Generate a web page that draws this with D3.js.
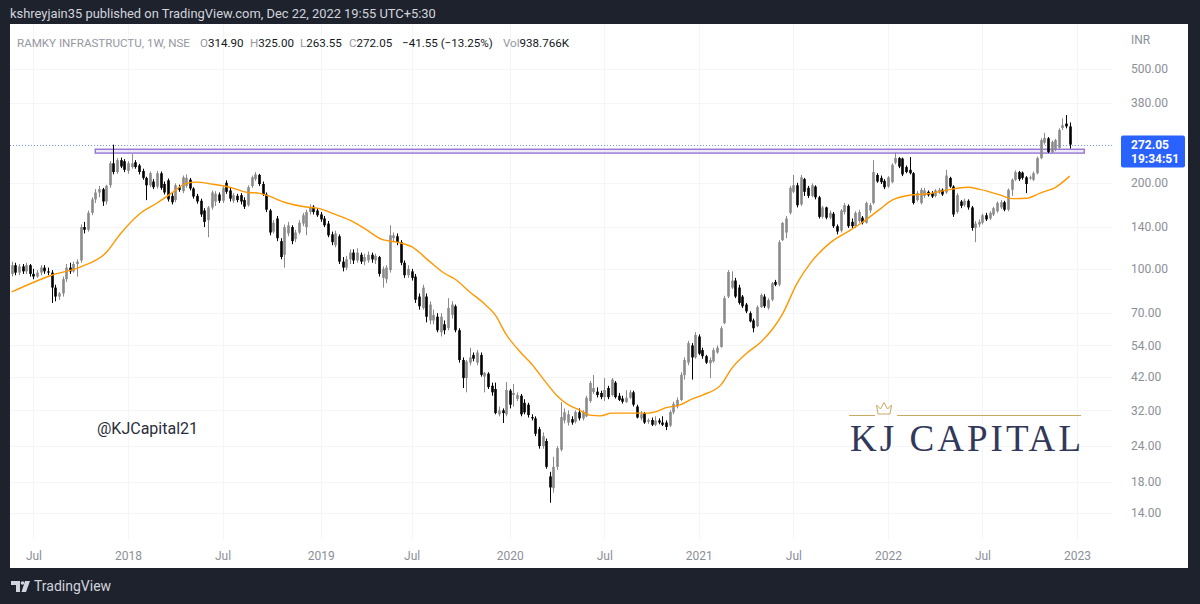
<!DOCTYPE html>
<html><head><meta charset="utf-8">
<script src="https://cdn.jsdelivr.net/npm/d3@7"></script>
<style>
html,body{margin:0;padding:0;background:#1e222d;overflow:hidden;}
svg{display:block;}
</style></head>
<body>
<svg id="c" width="1200" height="604"></svg>
<script>
// ---------------- DATA ----------------
const symbolTitle = "RAMKY INFRASTRUCTU, 1W, NSE";
const lastOHLC = {o: "314.90", h: "325.00", l: "263.55", c: "272.05", chg: "\u221241.55 (\u221213.25%)", vol: "938.766K"};
const firstBarWeek = "2017-05-22";   // Monday of first visible weekly bar
// weekly candles [open, high, low, close]
const ohlc2017 = [
 [96,106,94,103],[103,105,95,97],[97,104,95,102],[102,104,96,98],[98,105,96,103],[103,104,94,96],
 [96,100,92,94],[94,99,93,97],[97,103,95,101],[101,103,96,98],[98,101,95,97],[97,99,76,86],
 [86,88,77,80],[80,83,78,82],[82,94,80,92],[92,104,90,101],[101,105,96,98],[98,106,97,104],
 [104,108,94,106],[107,143,105,140],[140,146,133,137],[137,160,135,157],[157,178,154,175],[175,190,170,185],
 [185,195,178,190],[190,192,166,172],[172,197,168,195],[196,238,192,234],[234,272,214,218],[218,244,215,240],
 [240,245,225,228],[238,242,218,222]
];
const ohlc2018 = [
 [220,238,215,234],[227,252,224,234],[236,240,224,227],[230,233,214,218],[220,224,205,208],[208,210,174,196],
 [196,219,193,216],[202,206,190,193],[194,220,191,216],[216,219,189,192],[198,202,182,185],[204,207,172,175],
 [180,185,168,171],[174,199,171,196],[193,197,186,189],[187,212,184,209],[195,214,192,208],[205,208,188,191],
 [191,193,176,179],[180,183,169,172],[173,176,152,155],[160,163,140,146],[148,166,129,164],[164,188,161,185],
 [172,187,166,183],[182,185,170,173],[173,195,170,192],[200,204,183,186],[188,192,172,176],[173,184,170,181],
 [180,183,171,174],[181,184,168,172],[174,178,162,165],[167,196,165,193],[195,212,192,209],[206,218,203,214],
 [213,215,195,198],[198,202,180,182],[182,185,158,161],[160,162,131,134],[135,148,133,145],[150,153,125,128],
 [125,128,108,110],[112,143,101,140],[133,146,130,142],[140,142,122,125],[127,137,124,134],[134,148,132,145],
 [144,157,141,154],[140,161,131,158],[158,168,155,164],[165,167,155,158],[160,163,152,154]
];
const ohlc2019 = [
 [155,158,146,149],[150,153,140,142],[144,147,129,131],[132,135,121,124],[121,136,119,133],[130,132,104,106],
 [106,110,98,101],[101,111,99,108],[108,117,104,114],[114,117,104,107],[107,118,105,114],[112,114,104,106],
 [106,113,103,110],[107,115,105,112],[112,114,105,108],[107,113,104,111],[110,111,94,96],[93,102,86,100],
 [92,103,89,101],[99,142,97,131],[128,134,124,131],[130,133,121,124],[124,126,103,105],[105,107,93,95],
 [95,103,93,100],[98,100,91,93],[94,96,76,78],[80,82,72,74],[73,88,72,86],[80,82,65,68],
 [66,77,64,75],[66,72,64,69],[68,70,60,61],[60,70,58,68],[64,66,59,61],[62,79,61,73],
 [69,77,67,75],[74,75,60,61],[61,62,47,48],[48,49,38.3,41.5],[41.5,48,37,47.4],[47,53,46,49],
 [50,51,47.5,48.5],[47,52,46,51],[50,51,42,42.6],[42,43.6,37,43.3],[43,43.5,38,38.6],[39,40,36,37],
 [38,40,31,31.3],[31,33,30.5,32],[32,32.5,28.9,31.3],[31,40.2,30.5,37.7]
];
const ohlc2020 = [
 [37.5,38,32.5,33.5],[36.2,39.6,33,36.8],[35.1,37,34.5,36.2],[36,36.5,30.5,31],[34,35,31,31.5],[33.5,34,30.2,30.8],
 [30.3,31,29.5,30],[30,30.5,26,26.5],[27.5,28,23.5,24],[24,26.8,23.5,26],[25,25.5,20,20.3],[18.8,19.5,15.2,17.2],
 [17.1,22,16.5,20.3],[20.3,24,19.8,23.6],[23.3,34.2,23,30.3],[29.5,32.5,28.8,31.5],[29,32,28.3,31],[29.8,30.5,28.5,29],
 [29.2,32,28.8,31.6],[31.5,32.5,29.5,30],[30,32,29.5,31.6],[30.5,36,30.3,35.4],[34.5,40.5,34,39.9],[37.1,42.6,36.5,38.3],
 [37.2,38.5,35.5,36.2],[36.8,37.5,35,35.6],[35.6,41.5,34.5,37.7],[38.3,39,35,35.6],[36.2,41.5,35.8,41],[40,40.5,35.2,35.6],
 [36,36.8,34.5,34.8],[35.2,36,33.8,34.3],[34.2,37.6,34,35.4],[35.4,37.7,35,37],[37,37.5,33,33.5],[33,33.5,30,30.2],
 [30,31.8,29.5,31],[31.3,31.6,28.7,29],[29.2,30,28.7,29.6],[29.6,30.2,28.2,28.5],[28.5,30.5,28.2,29.5],[29.5,30,28.6,29],
 [29,30.5,28.2,28.5],[29,29.5,27.3,28],[28.3,32,28,31.6],[31.5,34.3,31,33.7],[33,35.5,32.5,34.8],[34.8,43.5,34.5,42.6],
 [42.5,49,41,48],[47,56,46,55],[54,55,41,49],[49,60,48.5,58.7]
];
const ohlc2021 = [
 [58,59,50,50.5],[52,53,48.5,49.5],[49.5,50,46.5,47],[46.8,49,41.5,48],[47.5,53,47,52],[51,54,50.5,53],
 [53.3,63,53,62],[64.6,80.5,64,79],[80,99,79,97.5],[86,98,85,91],[91,93,79,80],[86,88,75,76],
 [80,81,73,74],[75,76,70,71],[70,71,65,65.5],[66,67,60,62],[63,74.5,62.5,73.5],[73.5,82,73,81],
 [80,81.5,73,74],[73,79,72,77.8],[78,90,77,89],[90,91.5,87,88],[88,126,87,124],[126,146,125,144.7],
 [134,153,128,150],[157,195,155,192],[186,213,184,196],[196,200,164,167],[168,213,166,209],[206,208,180,186],
 [192,195,177,180],[180,199,178,196],[194,196,175,178],[178,180,150,152],[152,166,150,164],[164,165,149,151],
 [151,160,149,157],[156,158,139,141],[141,143,132,135],[136,162,134,160],[158,170,155,167],[166,168,139,141],
 [146,150,139,141],[141,159,139,157],[147,161,145,158],[151,153,143,145],[145,172,144,170],[160,170,157,167],
 [170,240,168,218],[213,216,200,202],[208,212,198,201],[203,206,190,193]
];
const ohlc2022 = [
 [194,211,192,209],[201,234,199,231],[235,255,232,244],[244,246,225,228],[243,245,211,214],[227,230,216,218],
 [222,246,214,216],[216,218,168,170],[174,187,172,184],[170,192,168,189],[180,192,177,188],[186,188,179,181],
 [184,187,177,179],[180,190,178,188],[185,192,183,189],[189,191,180,182],[185,222,183,212],[208,210,192,194],
 [194,196,152,155],[158,184,156,181],[172,174,163,166],[167,176,165,173],[173,175,161,164],[164,166,136,139],
 [139,147,124,144],[143,149,140,146],[145,156,143,154],[154,157,147,149],[150,159,148,157],[155,165,153,163],
 [159,172,157,170],[164,174,162,171],[171,173,159,161],[161,191,159,189],[189,207,180,205],[205,221,203,218],
 [218,220,203,206],[217,219,205,208],[209,211,184,198],[207,212,205,209],[205,219,203,216],[216,247,214,244],
 [244,286,242,282],[276,299,272,287],[286,289,254,256],[256,281,254,278],[262,285,258,282],[265,310,262,306],
 [311,336,306,318],[322,345,310,315],[314.90,325.00,263.55,272.05]
];
// orange moving average: bar index -> value
const maBarIndex = [0,11,19,26,30,35,40,44,48,51,55,60,65,68,70,75,81,84,89,93,97,102,106,110,115,119,122,126,130,133,136,140,143,147,150,153,156,159,162,165,169,175,177,180,184,187,190,195,198,202,206,209,212,216,220,225,230,234,239,242,247,252,257,263,266,272,275,279,283,287,291];
const maValues   = [83,95,101.6,114,133,155,170,184,199,201,198,193,185,184,181,171,164.5,163,155,148,138.5,126.5,124,119.5,106,96.5,92,83,75.5,69,59,51,46.5,40,36,33.5,32.2,30.8,30.6,31.3,31.3,31.3,31.6,32.7,33.5,35,36.2,39.2,44.8,50.5,55.4,61,69.5,89,106,123,135,145.5,162.5,173.5,181,183,188.5,193,190,181,176,176.5,184.5,192.5,211];
// resistance zone drawing
const zoneTop = 262, zoneBottom = 254;
const zoneStart = "2017-10-30", zoneEnd = "2023-01-16";
// axes
const priceTicks = [500,380,200,140,100,70,54,42,32,24,18,14];
const timeTickDates  = ["2017-07-01","2018-01-01","2018-07-01","2019-01-01","2019-07-01","2020-01-01","2020-07-01","2021-01-01","2021-07-01","2022-01-01","2022-07-01","2023-01-01"];
const timeTickLabels = ["Jul","2018","Jul","2019","Jul","2020","Jul","2021","Jul","2022","Jul","2023"];
const lastPrice = 272.05, countdown = "19:34:51";

// ---------------- CHART ----------------
const svg = d3.select("#c");
const W = 1200, H = 604;
const panel = {x: 10, y: 24, w: 1178, h: 544};
const plotRight = 1112;
const FONT = "Roboto, 'Open Sans', sans-serif";
const up = "#8a8a8a", down = "#000000", grey = "#8c8f98";

svg.append("rect").attr("width", W).attr("height", H).attr("fill", "#1e222d");
svg.append("text").attr("x", 10).attr("y", 18).attr("fill", "#d1d4dc")
  .style("font", `12.9px ${FONT}`).text("kshreyjain35 published on TradingView.com, Dec 22, 2022 19:55 UTC+5:30");
svg.append("rect").attr("x", panel.x).attr("y", panel.y).attr("width", panel.w).attr("height", panel.h).attr("fill", "#ffffff");

const parse = d3.utcParse("%Y-%m-%d");
const start = parse(firstBarWeek);
const bars = [].concat(ohlc2017, ohlc2018, ohlc2019, ohlc2020, ohlc2021, ohlc2022)
  .map((d, i) => ({date: d3.utcWeek.offset(start, i), o: d[0], h: d[1], l: d[2], c: d[3]}));

const x = d3.scaleUtc().domain([parse("2018-01-01"), parse("2023-01-02")]).range([128, 1077]);
const y = d3.scaleLog().domain([14, 500]).range([513, 69]);

svg.append("clipPath").attr("id", "plot").append("rect")
  .attr("x", panel.x).attr("y", panel.y).attr("width", plotRight - panel.x).attr("height", 540 - panel.y);

const tickPos = timeTickDates.map(s => d3.utcMonday.ceil(parse(s)));

// grid
const grid = svg.append("g").attr("clip-path", "url(#plot)");
grid.selectAll("line.h").data(priceTicks).join("line")
  .attr("x1", panel.x).attr("x2", plotRight).attr("y1", d => Math.round(y(d)) + 0.5).attr("y2", d => Math.round(y(d)) + 0.5)
  .attr("stroke", "#f4f5f8");
grid.selectAll("line.v").data(tickPos).join("line")
  .attr("y1", panel.y).attr("y2", 540).attr("x1", d => Math.round(x(d)) + 0.5).attr("x2", d => Math.round(x(d)) + 0.5)
  .attr("stroke", "#f4f5f8");

const plot = svg.append("g").attr("clip-path", "url(#plot)");

// last price dotted line
plot.append("line").attr("x1", panel.x).attr("x2", 1122)
  .attr("y1", Math.round(y(lastPrice)) + 0.5).attr("y2", Math.round(y(lastPrice)) + 0.5)
  .attr("stroke", "#6f95ff").attr("stroke-dasharray", "1,2");

// zone
plot.append("rect")
  .attr("x", x(parse(zoneStart))).attr("width", x(parse(zoneEnd)) - x(parse(zoneStart)))
  .attr("y", y(zoneTop)).attr("height", y(zoneBottom) - y(zoneTop))
  .attr("fill", "rgba(149,117,205,0.15)").attr("stroke", "#9474d6").attr("stroke-width", 1.4);

// candles
const bw = 2.6;
const cg = plot.append("g");
cg.selectAll("line").data(bars).join("line")
  .attr("x1", d => Math.round(x(d.date)) + 0.5).attr("x2", d => Math.round(x(d.date)) + 0.5)
  .attr("y1", d => y(d.h)).attr("y2", d => y(d.l))
  .attr("stroke", d => d.c >= d.o ? up : down).attr("stroke-width", 1);
cg.selectAll("rect").data(bars).join("rect")
  .attr("x", d => Math.round(x(d.date)) + 0.5 - bw / 2).attr("width", bw)
  .attr("y", d => y(Math.max(d.o, d.c)))
  .attr("height", d => Math.max(1, y(Math.min(d.o, d.c)) - y(Math.max(d.o, d.c))))
  .attr("fill", d => d.c >= d.o ? up : down);

// moving average
const maPts = maBarIndex.map((b, i) => ({date: bars[b].date, v: maValues[i]}));
plot.append("path").datum(maPts)
  .attr("d", d3.line().x(d => x(d.date)).y(d => y(d.v)).curve(d3.curveMonotoneX))
  .attr("fill", "none").attr("stroke", "#ff9800").attr("stroke-width", 1.4);

// legend
const legendParts = [
  {t: symbolTitle, x: 17, c: "#9598a1"},
  {t: "O", x: 200, c: "#9598a1"}, {t: lastOHLC.o, c: "#131722"},
  {t: "H", x: 250, c: "#9598a1"}, {t: lastOHLC.h, c: "#131722"},
  {t: "L", x: 300, c: "#9598a1"}, {t: lastOHLC.l, c: "#131722"},
  {t: "C", x: 349, c: "#9598a1"}, {t: lastOHLC.c, c: "#131722"},
  {t: lastOHLC.chg, x: 402, c: "#131722"},
  {t: "Vol", x: 503, c: "#9598a1"}, {t: lastOHLC.vol, c: "#131722"}
];
const lg = svg.append("text").attr("y", 47).style("font", `11.6px ${FONT}`);
legendParts.forEach(p => {
  const s = lg.append("tspan").attr("fill", p.c).text(p.t);
  if (p.x !== undefined) s.attr("x", p.x);
});

// price axis
const ya = svg.append("g").attr("transform", "translate(1125,0)")
  .call(d3.axisRight(y).tickValues(priceTicks).tickFormat(d3.format(".2f")).tickSize(0).tickPadding(6));
ya.select(".domain").remove();
ya.selectAll("text").style("font", `12px ${FONT}`).attr("fill", grey);
svg.append("text").attr("x", 1131).attr("y", 44).style("font", `12px ${FONT}`).attr("fill", grey).text("INR");

// time axis
const xa = svg.append("g").attr("transform", "translate(0,545)")
  .call(d3.axisBottom(x).tickValues(tickPos).tickFormat((d, i) => timeTickLabels[i]).tickSize(0).tickPadding(6));
xa.select(".domain").remove();
xa.selectAll("text").style("font", `12px ${FONT}`).attr("fill", grey);

// last price label
const ly = y(lastPrice);
svg.append("rect").attr("x", 1121).attr("y", ly - 9).attr("width", 64).attr("height", 32).attr("rx", 2).attr("fill", "#2962ff");
svg.append("text").attr("x", 1131).attr("y", ly + 4.5).style("font", `bold 12px ${FONT}`).attr("fill", "#fff").text(d3.format(".2f")(lastPrice));
svg.append("text").attr("x", 1131).attr("y", ly + 18.5).style("font", `bold 12px ${FONT}`).attr("fill", "#fff").text(countdown);

// watermark texts
svg.append("text").attr("x", 97).attr("y", 434).style("font", `16px ${FONT}`).attr("fill", "#2a2e39").text("@KJCapital21");
const gold = "#c9a85f";
svg.append("line").attr("x1", 849).attr("x2", 875).attr("y1", 415.5).attr("y2", 415.5).attr("stroke", gold);
svg.append("line").attr("x1", 897).attr("x2", 1081).attr("y1", 415.5).attr("y2", 415.5).attr("stroke", gold);
svg.append("path").attr("d", "M878,414 L876.5,405 L880.5,409 L884,402.5 L887.5,409 L891.5,405 L890,414 Z")
  .attr("fill", "none").attr("stroke", gold).attr("stroke-width", 1);
svg.append("text").attr("x", 850).attr("y", 451).style("font", `37px 'Liberation Serif', serif`)
  .attr("fill", "#323859").attr("textLength", 231).attr("lengthAdjust", "spacing").text("KJ CAPITAL");

// TradingView footer
const tv = svg.append("g").attr("fill", "#d1d4dc");
tv.append("path").attr("d", "M11,581 H20 V592 H16 V585 H11 Z");
tv.append("circle").attr("cx", 22.5).attr("cy", 583).attr("r", 1.8);
tv.append("path").attr("d", "M25,581 H30 L26,592 H21.5 Z");
svg.append("text").attr("x", 34).attr("y", 591).style("font", `14px ${FONT}`).attr("fill", "#d1d4dc").text("TradingView");
</script>
</body></html>
